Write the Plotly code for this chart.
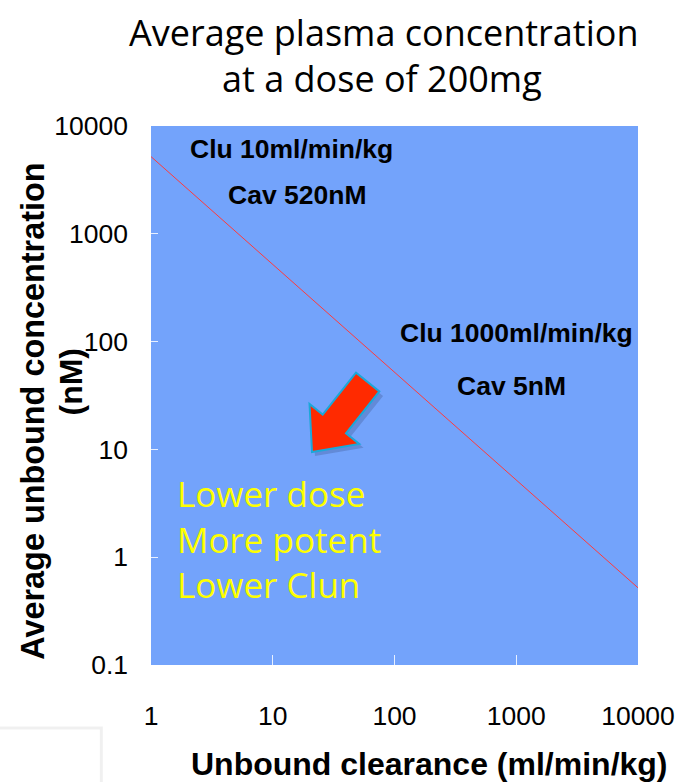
import math
import plotly.graph_objects as go

# ---------------- data ----------------
clearance = [1, 10, 100, 1000, 10000]            # unbound clearance (ml/min/kg)
concentration = [5200, 520, 52, 5.2, 0.52]       # average unbound concentration (nM)
x_ticks = [1, 10, 100, 1000, 10000]
x_tick_labels = ["1", "10", "100", "1000", "10000"]
y_ticks = [0.1, 1, 10, 100, 1000, 10000]
y_tick_labels = ["0.1", "1", "10", "100", "1000", "10000"]

title_lines = ["Average plasma concentration", "at a dose of 200mg"]
point_notes = [("Clu 10ml/min/kg", "Cav 520nM"), ("Clu 1000ml/min/kg", "Cav 5nM")]
yellow_lines = ["Lower dose", "More potent", "Lower Clun"]

# ---------------- layout geometry (pixels) ----------------
W, H = 687, 782
L, R, T, B = 151, 641, 126, 665
PW, PH = R - L, B - T


def px(x):
    return (x - L) / PW


def py(y):
    return (B - y) / PH


BG = "#73A3FB"
ARIAL = "Liberation Sans, Arial, sans-serif"
COMIC = "Comic Sans MS, Open Sans, sans-serif"

fig = go.Figure()
fig.add_trace(go.Scatter(
    x=clearance, y=concentration, mode="lines",
    line=dict(color="#FF3B3B", width=1), hoverinfo="skip", showlegend=False,
))

fig.update_layout(
    width=W, height=H,
    margin=dict(l=L, r=W - R, t=T, b=H - B),
    paper_bgcolor="white", plot_bgcolor=BG,
    showlegend=False,
    xaxis=dict(type="log", range=[0, 4], tickvals=x_ticks, ticktext=x_tick_labels,
               ticks="inside", ticklen=10, tickwidth=1, tickcolor="#E8F0FF",
               showgrid=False, zeroline=False, showline=False,
               tickfont=dict(family=ARIAL, size=26.5, color="black"),
               ticklabelstandoff=32),
    yaxis=dict(type="log", range=[-1, 4], tickvals=y_ticks, ticktext=y_tick_labels,
               ticks="inside", ticklen=7, tickwidth=1, tickcolor="#E8F0FF",
               showgrid=False, zeroline=False, showline=False,
               tickfont=dict(family=ARIAL, size=26.5, color="black"),
               ticklabelstandoff=22),
)

ann = []
# title
ann.append(dict(text=title_lines[0], x=px(385), y=py(32), xref="paper", yref="paper",
                showarrow=False, xanchor="center", yanchor="middle",
                font=dict(family=COMIC, size=36, color="black")))
ann.append(dict(text=title_lines[1], x=px(383), y=py(78), xref="paper", yref="paper",
                showarrow=False, xanchor="center", yanchor="middle",
                font=dict(family=COMIC, size=36, color="black")))
# axis titles
ann.append(dict(text="<b>Unbound clearance (ml/min/kg)</b>", x=px(431), y=py(764),
                xref="paper", yref="paper", showarrow=False, xanchor="center", yanchor="middle",
                font=dict(family=ARIAL, size=32, color="black")))
ann.append(dict(text="<b>Average unbound concentration</b>", x=px(32), y=py(411),
                xref="paper", yref="paper", showarrow=False, textangle=-90,
                xanchor="center", yanchor="middle",
                font=dict(family=ARIAL, size=32.4, color="black")))
ann.append(dict(text="<b>(nM)</b>", x=px(71), y=py(381),
                xref="paper", yref="paper", showarrow=False, textangle=-90,
                xanchor="center", yanchor="middle",
                font=dict(family=ARIAL, size=32, color="black")))
# point notes
note_pos = [((292, 149), (298, 195)), ((519, 333), (514, 386))]
for (t1, t2), ((x1, y1), (x2, y2)) in zip(point_notes, note_pos):
    for t, xx, yy in ((t1, x1, y1), (t2, x2, y2)):
        ann.append(dict(text="<b>" + t + "</b>", x=px(xx), y=py(yy), xref="paper", yref="paper",
                        showarrow=False, xanchor="center", yanchor="middle",
                        font=dict(family=ARIAL, size=26.5, color="black")))
# yellow remarks (one multi-line block)
ann.append(dict(text="<br>".join(yellow_lines), x=px(175), y=py(539), xref="paper", yref="paper",
                showarrow=False, xanchor="left", yanchor="middle", align="left",
                font=dict(family=COMIC, size=35, color="#FFFF00")))
fig.update_layout(annotations=ann)


# ---------------- block arrow decoration ----------------
def arrow_path(tail, tip, shaft_hw, head_hw, head_len, dx=0, dy=0):
    (x0, y0), (x1, y1) = tail, tip
    vx, vy = x1 - x0, y1 - y0
    ln = math.hypot(vx, vy)
    ux, uy = vx / ln, vy / ln
    nx, ny = -uy, ux
    bx, by = x1 - ux * head_len, y1 - uy * head_len
    pts = [
        (x0 + nx * shaft_hw, y0 + ny * shaft_hw),
        (bx + nx * shaft_hw, by + ny * shaft_hw),
        (bx + nx * head_hw, by + ny * head_hw),
        (x1, y1),
        (bx - nx * head_hw, by - ny * head_hw),
        (bx - nx * shaft_hw, by - ny * shaft_hw),
        (x0 - nx * shaft_hw, y0 - ny * shaft_hw),
    ]
    return "M " + " L ".join(f"{px(x + dx):.4f},{py(y + dy):.4f}" for x, y in pts) + " Z"


tail, tip = (369, 382), (313, 452)
shapes = [
    dict(type="path", xref="paper", yref="paper",
         path=arrow_path(tail, tip, 16, 33, 37, 3, 4),
         fillcolor="rgba(40,50,90,0.22)", line=dict(width=0)),
    dict(type="path", xref="paper", yref="paper",
         path=arrow_path(tail, tip, 15, 32, 36),
         fillcolor="#FF2A00", line=dict(color="#1AA8D8", width=2)),
    # faint box with shadow at bottom-left
    dict(type="rect", xref="paper", yref="paper",
         x0=px(-5), x1=px(101), y0=py(800), y1=py(728),
         line=dict(color="rgba(0,0,0,0.06)", width=3), fillcolor="rgba(0,0,0,0)"),
]
fig.update_layout(shapes=shapes)

fig.write_html("out.html")
